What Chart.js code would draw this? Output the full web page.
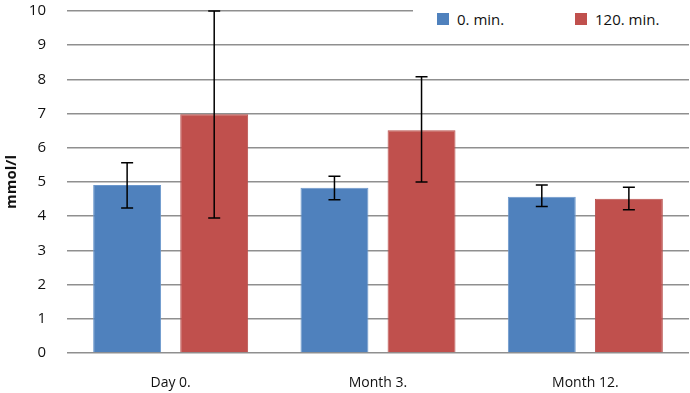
<!DOCTYPE html>
<html lang="en">
<head>
    <meta charset="UTF-8">
    <title>mmol/l</title>
    <style>
        body {
            margin: 0;
            background: #fff;
            font-family: "Open Sans", Arial, sans-serif;
        }
        .wrap {
            position: relative;
            width: 690px;
            height: 393px;
        }
        .legend {
            position: absolute;
            left: 413px;
            top: 0;
            width: 277px;
            height: 36px;
            background: #fff;
            font-size: 15px;
            color: #111;
        }
        .legend span {
            position: absolute;
            top: 9px;
            line-height: 20px;
        }
        .legend i {
            position: absolute;
            top: 13px;
            width: 12px;
            height: 12px;
        }
    </style>
    <script src="https://cdn.jsdelivr.net/npm/chart.js"></script>
</head>
<body>
    <div class="wrap">
        <canvas id="chart" width="690" height="393"></canvas>
        <div class="legend">
            <i style="left:24px;background:#4f81bd"></i><span style="left:44px" id="lg0"></span>
            <i style="left:162px;background:#c0504d"></i><span style="left:182px" id="lg1"></span>
        </div>
    </div>

    <script>
        const categories = ['Day 0.', 'Month 3.', 'Month 12.'];
        const seriesNames = ['0. min.', '120. min.'];
        const min0 = [4.91, 4.83, 4.57];
        const min120 = [6.98, 6.51, 4.51];
        const min0Low = [4.24, 4.48, 4.28];
        const min0High = [5.56, 5.17, 4.91];
        const min120Low = [3.95, 5.0, 4.19];
        const min120High = [10, 8.08, 4.85];
        const yTicks = [0, 1, 2, 3, 4, 5, 6, 7, 8, 9, 10];

        document.getElementById('lg0').textContent = seriesNames[0];
        document.getElementById('lg1').textContent = seriesNames[1];

        // error bars drawn on top of each bar
        const errorBars = {
            id: 'errorBars',
            afterDatasetsDraw(chart) {
                const ctx = chart.ctx;
                const y = chart.scales.y;
                chart.data.datasets.forEach((ds, i) => {
                    const meta = chart.getDatasetMeta(i);
                    meta.data.forEach((bar, j) => {
                        const top = y.getPixelForValue(ds.errHigh[j]);
                        const bottom = y.getPixelForValue(ds.errLow[j]);
                        ctx.save();
                        ctx.strokeStyle = '#000';
                        ctx.lineWidth = 1.5;
                        ctx.beginPath();
                        ctx.moveTo(bar.x, top);
                        ctx.lineTo(bar.x, bottom);
                        ctx.moveTo(bar.x - 6, top);
                        ctx.lineTo(bar.x + 6, top);
                        ctx.moveTo(bar.x - 6, bottom);
                        ctx.lineTo(bar.x + 6, bottom);
                        ctx.stroke();
                        ctx.restore();
                    });
                });
            }
        };

        new Chart(document.getElementById('chart'), {
            type: 'bar',
            data: {
                labels: categories,
                datasets: [{
                    label: seriesNames[0],
                    data: min0,
                    errLow: min0Low,
                    errHigh: min0High,
                    backgroundColor: '#4f81bd',
                    borderColor: '#6b97cc',
                    borderWidth: 1
                }, {
                    label: seriesNames[1],
                    data: min120,
                    errLow: min120Low,
                    errHigh: min120High,
                    backgroundColor: '#c0504d',
                    borderColor: '#b9504d',
                    borderWidth: 1
                }]
            },
            options: {
                responsive: false,
                animation: false,
                categoryPercentage: 0.84,
                barPercentage: 0.78,
                layout: { padding: { top: 0, right: 1, left: 0, bottom: 0 } },
                plugins: {
                    legend: { display: false },
                    tooltip: { enabled: false }
                },
                scales: {
                    x: {
                        grid: { display: false },
                        border: { display: false },
                        ticks: {
                            padding: 14,
                            color: '#111',
                            font: { family: 'Open Sans', size: 14 }
                        },
                        afterFit(scale) { scale.height = 40; }
                    },
                    y: {
                        min: 0,
                        max: 10,
                        afterBuildTicks(scale) {
                            scale.ticks = yTicks.map(v => ({ value: v }));
                        },
                        grid: {
                            color: '#8f8f8f',
                            lineWidth: 1.5,
                            drawTicks: true,
                            tickLength: 19,
                            tickColor: 'rgba(0,0,0,0)'
                        },
                        border: { display: false },
                        ticks: {
                            padding: 2,
                            color: '#111',
                            font: { family: 'Open Sans', size: 15 }
                        },
                        title: {
                            display: true,
                            text: 'mmol/l',
                            color: '#111',
                            font: { family: 'Open Sans', size: 15, weight: 'bold' },
                            padding: { top: 3, bottom: 0 }
                        },
                        afterFit(scale) { scale.width = 67; }
                    }
                }
            },
            plugins: [errorBars]
        });
    </script>
</body>
</html>
